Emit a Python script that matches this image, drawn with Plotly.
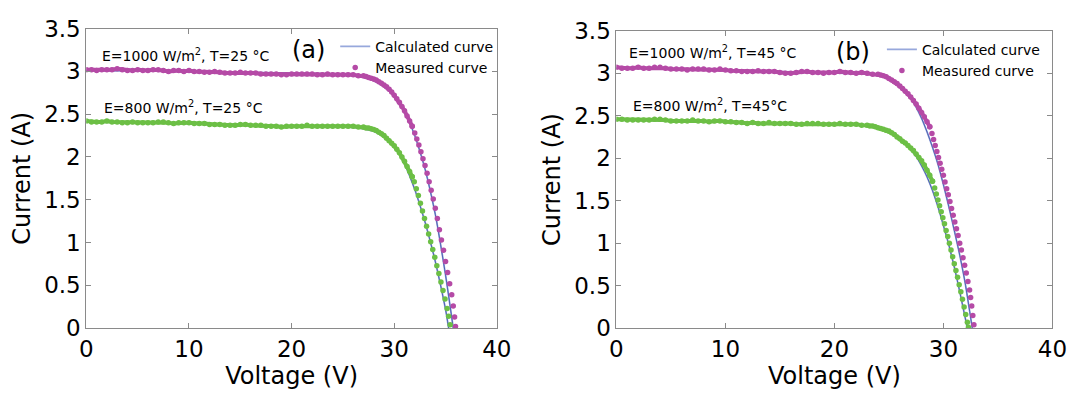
import plotly.graph_objects as go

# ---------------- data ----------------
# Panel (a): T = 25 °C
V_A_1000 = [0, 0.5, 1, 1.5, 2, 2.5, 3, 3.5, 4, 4.5, 5, 5.5, 6, 6.5, 7, 7.5, 8, 8.5, 9, 9.5,
            10, 10.5, 11, 11.5, 12, 12.5, 13, 13.5, 14, 14.5, 15, 15.5, 16, 16.5, 17, 17.5,
            18, 18.5, 19, 19.5, 20, 20.5, 21, 21.5, 22, 22.5, 23, 23.5, 24, 24.5, 25, 25.5,
            26, 26.5, 27,
            27.25, 27.5, 27.75, 28, 28.25, 28.5, 28.75, 29, 29.25, 29.5, 29.75, 30, 30.25,
            30.5, 30.75, 31, 31.25, 31.5, 31.75,
            32.0, 32.2, 32.4, 32.6, 32.8, 33.0, 33.2, 33.4, 33.6, 33.8, 34.0, 34.2, 34.4,
            34.6, 34.8, 35.0, 35.2, 35.4, 35.6, 35.75, 35.88, 35.97]
I_A_1000 = [3.02, 3.02, 3.01, 3.02, 3.02, 3.02, 3.03, 3.02, 3.01, 3.01, 3.02, 3.01, 3.01, 3.02,
            3.02, 3.01, 3.00, 3.01, 3.01, 3.00, 3.01, 3.00, 3.00, 2.99, 2.99, 3.00, 2.99, 2.98,
            2.98, 2.98, 2.99, 2.98, 2.98, 2.98, 2.97, 2.97, 2.97, 2.97, 2.96, 2.96, 2.97, 2.97,
            2.97, 2.97, 2.97, 2.96, 2.96, 2.97, 2.96, 2.96, 2.96, 2.96, 2.96, 2.95, 2.95,
            2.94, 2.93, 2.92, 2.91, 2.90, 2.88, 2.86, 2.84, 2.82, 2.79, 2.76, 2.72, 2.68,
            2.64, 2.59, 2.54, 2.48, 2.42, 2.36,
            2.28, 2.21, 2.14, 2.06, 1.98, 1.90, 1.81, 1.71, 1.61, 1.51, 1.40, 1.28, 1.15,
            1.03, 0.91, 0.78, 0.65, 0.52, 0.39, 0.26, 0.13, 0.02]
N_DENSE_A_1000 = 74  # points recorded densely (continuous band) before the steep part

V_A_800 = [0, 0.5, 1, 1.5, 2, 2.5, 3, 3.5, 4, 4.5, 5, 5.5, 6, 6.5, 7, 7.5, 8, 8.5, 9, 9.5,
           10, 10.5, 11, 11.5, 12, 12.5, 13, 13.5, 14, 14.5, 15, 15.5, 16, 16.5, 17, 17.5,
           18, 18.5, 19, 19.5, 20, 20.5, 21, 21.5, 22, 22.5, 23, 23.5, 24, 24.5, 25, 25.5,
           26, 26.5, 27,
           27.25, 27.5, 27.75, 28, 28.25, 28.5, 28.75, 29, 29.25, 29.5, 29.75, 30, 30.25,
           30.5, 30.75, 31, 31.25, 31.5, 31.75,
           31.95, 32.15, 32.35, 32.55, 32.75, 32.95, 33.15, 33.35, 33.55, 33.75, 33.95,
           34.15, 34.35, 34.55, 34.75, 34.95, 35.15, 35.3, 35.45]
I_A_800 = [2.42, 2.41, 2.41, 2.41, 2.42, 2.41, 2.41, 2.40, 2.40, 2.41, 2.40, 2.40, 2.40, 2.40,
           2.41, 2.41, 2.40, 2.39, 2.40, 2.40, 2.40, 2.39, 2.39, 2.39, 2.38, 2.38, 2.38, 2.37,
           2.37, 2.37, 2.38, 2.38, 2.37, 2.37, 2.37, 2.36, 2.36, 2.36, 2.35, 2.36, 2.36, 2.36,
           2.36, 2.37, 2.36, 2.36, 2.36, 2.36, 2.36, 2.36, 2.36, 2.36, 2.36, 2.35, 2.35,
           2.34, 2.34, 2.33, 2.32, 2.31, 2.29, 2.27, 2.25, 2.22, 2.19, 2.16, 2.13, 2.09,
           2.05, 2.00, 1.95, 1.89, 1.83, 1.77,
           1.71, 1.63, 1.55, 1.46, 1.37, 1.28, 1.19, 1.10, 1.01, 0.92, 0.83,
           0.73, 0.64, 0.54, 0.44, 0.34, 0.23, 0.14, 0.04]
N_DENSE_A_800 = 74

VC_A_1000 = [0, 5, 10, 15, 20, 24, 26, 27, 28, 29, 30, 31, 32, 33, 34, 35, 35.75]
IC_A_1000 = [3.01, 3.005, 3.0, 2.99, 2.98, 2.97, 2.95, 2.93, 2.89, 2.82, 2.71, 2.53, 2.25,
             1.86, 1.33, 0.62, 0.0]
VC_A_800 = [0, 5, 10, 15, 20, 24, 26, 27, 28, 29, 30, 31, 32, 33, 34, 35, 35.3]
IC_A_800 = [2.41, 2.40, 2.39, 2.38, 2.36, 2.355, 2.345, 2.33, 2.30, 2.24, 2.13, 1.92, 1.62,
            1.24, 0.78, 0.22, 0.0]

# Panel (b): T = 45 °C
V_B_1000 = [0, 0.5, 1, 1.5, 2, 2.5, 3, 3.5, 4, 4.5, 5, 5.5, 6, 6.5, 7, 7.5, 8, 8.5, 9, 9.5,
            10, 10.5, 11, 11.5, 12, 12.5, 13, 13.5, 14, 14.5, 15, 15.5, 16, 16.5, 17, 17.5,
            18, 18.5, 19, 19.5, 20, 20.5, 21, 21.5, 22, 22.5, 23, 23.5, 24,
            24.25, 24.5, 24.75, 25, 25.25, 25.5, 25.75, 26, 26.25, 26.5, 26.75, 27, 27.25,
            27.5, 27.75, 28, 28.25, 28.5, 28.75,
            28.95, 29.1, 29.25, 29.4, 29.55, 29.7, 29.85, 30.0, 30.15, 30.3, 30.45, 30.6,
            30.75, 30.9, 31.05, 31.2, 31.35, 31.5, 31.65, 31.8, 31.95, 32.1, 32.25, 32.4,
            32.5, 32.6, 32.7, 32.8]
I_B_1000 = [3.07, 3.06, 3.06, 3.06, 3.07, 3.06, 3.06, 3.07, 3.07, 3.06, 3.05, 3.05, 3.05, 3.04,
            3.05, 3.05, 3.05, 3.04, 3.04, 3.05, 3.04, 3.03, 3.03, 3.02, 3.02, 3.02, 3.03, 3.02,
            3.02, 3.02, 3.01, 3.00, 3.00, 3.01, 3.02, 3.02, 3.01, 3.01, 3.00, 3.01, 3.01, 3.02,
            3.01, 3.01, 3.00, 3.01, 3.00, 2.99, 2.99,
            2.98, 2.97, 2.96, 2.94, 2.92, 2.90, 2.88, 2.85, 2.82, 2.79, 2.76, 2.72, 2.68,
            2.64, 2.59, 2.54, 2.49, 2.43, 2.37,
            2.29, 2.22, 2.15, 2.08, 2.01, 1.94, 1.87, 1.80, 1.72, 1.64, 1.57, 1.49,
            1.41, 1.33, 1.25, 1.17, 1.09, 1.00, 0.92, 0.83, 0.74, 0.65, 0.55, 0.45,
            0.36, 0.26, 0.15, 0.04]
N_DENSE_B_1000 = 68

V_B_800 = [0, 0.5, 1, 1.5, 2, 2.5, 3, 3.5, 4, 4.5, 5, 5.5, 6, 6.5, 7, 7.5, 8, 8.5, 9, 9.5,
           10, 10.5, 11, 11.5, 12, 12.5, 13, 13.5, 14, 14.5, 15, 15.5, 16, 16.5, 17, 17.5,
           18, 18.5, 19, 19.5, 20, 20.5, 21, 21.5, 22, 22.5, 23,
           23.25, 23.5, 23.75, 24, 24.25, 24.5, 24.75, 25, 25.25, 25.5, 25.75, 26, 26.25,
           26.5, 26.75, 27, 27.25, 27.5, 27.75, 28, 28.25, 28.5, 28.75, 29,
           29.2, 29.35, 29.5, 29.65, 29.8, 29.95, 30.1, 30.25, 30.4, 30.55, 30.7, 30.85,
           31.0, 31.15, 31.3, 31.45, 31.6, 31.75, 31.9, 32.05, 32.2, 32.3]
I_B_800 = [2.46, 2.46, 2.45, 2.45, 2.45, 2.45, 2.45, 2.46, 2.46, 2.45, 2.44, 2.44, 2.44, 2.44,
           2.45, 2.44, 2.44, 2.43, 2.44, 2.44, 2.43, 2.43, 2.42, 2.42, 2.41, 2.42, 2.41, 2.41,
           2.42, 2.41, 2.41, 2.41, 2.41, 2.40, 2.40, 2.41, 2.41, 2.41, 2.40, 2.40, 2.40, 2.41,
           2.40, 2.40, 2.40, 2.39, 2.39,
           2.38, 2.38, 2.37, 2.36, 2.35, 2.34, 2.33, 2.32, 2.30, 2.28, 2.25, 2.23, 2.20,
           2.18, 2.15, 2.12, 2.09, 2.05, 2.01, 1.97, 1.92, 1.86, 1.80, 1.73,
           1.65, 1.58, 1.51, 1.44, 1.37, 1.30, 1.23, 1.15, 1.08, 1.00, 0.92, 0.84,
           0.76, 0.68, 0.60, 0.51, 0.43, 0.34, 0.25, 0.16, 0.07, 0.01]
N_DENSE_B_800 = 71

VC_B_1000 = [0, 5, 10, 15, 20, 23, 24.5, 25.5, 26.5, 27, 27.5, 28, 28.5, 29, 29.5, 30, 30.5,
             31, 31.5, 32.0, 32.65]
IC_B_1000 = [3.06, 3.05, 3.035, 3.02, 3.005, 2.99, 2.96, 2.90, 2.79, 2.71, 2.60, 2.47, 2.31,
             2.13, 1.93, 1.69, 1.43, 1.15, 0.86, 0.53, 0.0]
VC_B_800 = [0, 5, 10, 15, 20, 22, 23.5, 24.5, 25.5, 26.5, 27, 27.5, 28, 28.5, 29, 29.5, 30,
            30.5, 31, 31.5, 32.2]
IC_B_800 = [2.45, 2.44, 2.43, 2.41, 2.405, 2.40, 2.38, 2.34, 2.27, 2.17, 2.10, 2.02, 1.91,
            1.78, 1.62, 1.43, 1.21, 0.98, 0.72, 0.43, 0.0]

LABELS_A = ["E=1000 W/m<sup>2</sup>, T=25 °C", "E=800 W/m<sup>2</sup>, T=25 °C", "(a)"]
LABELS_B = ["E=1000 W/m<sup>2</sup>, T=45 °C", "E=800 W/m<sup>2</sup>, T=45°C", "(b)"]

# ---------------- styling ----------------
MAGENTA = "#b54aa6"
GREEN = "#6cbf45"
CALC_LIGHT = "#97a8dc"
CALC_DARK = "#2f42a2"
FONT = "DejaVu Sans, Arial, sans-serif"

fig = go.Figure()


def add_panel(xa, ya, legend, meas, calc):
    # calculated curves (light line with thin darker core)
    for k, (vc, ic) in enumerate(calc):
        fig.add_trace(go.Scatter(x=vc, y=ic, mode="lines", xaxis=xa, yaxis=ya,
                                 line=dict(color=CALC_LIGHT, width=1.8, shape="spline",
                                           smoothing=0.6),
                                 name="Calculated curve", legend=legend,
                                 showlegend=(k == 0)))
        fig.add_trace(go.Scatter(x=vc, y=ic, mode="lines", xaxis=xa, yaxis=ya,
                                 line=dict(color=CALC_DARK, width=0.7, shape="spline",
                                           smoothing=0.6),
                                 showlegend=False, hoverinfo="skip"))
    for k, (v, i, n, col) in enumerate(meas):
        # densely sampled part of the record: a continuous noisy band of markers
        fig.add_trace(go.Scatter(x=v[:n], y=i[:n], mode="lines+markers", xaxis=xa, yaxis=ya,
                                 line=dict(color=col, width=4),
                                 marker=dict(color=col, size=5.5, line=dict(width=0)),
                                 showlegend=False))
        # sparse part on the steep slope
        fig.add_trace(go.Scatter(x=v[n - 1:], y=i[n - 1:], mode="markers", xaxis=xa, yaxis=ya,
                                 marker=dict(color=col, size=5.5, line=dict(width=0)),
                                 name="Measured curve", legend=legend,
                                 showlegend=(k == 0)))


add_panel("x", "y", "legend",
          [(V_A_1000, I_A_1000, N_DENSE_A_1000, MAGENTA), (V_A_800, I_A_800, N_DENSE_A_800, GREEN)],
          [(VC_A_1000, IC_A_1000), (VC_A_800, IC_A_800)])
add_panel("x2", "y2", "legend2",
          [(V_B_1000, I_B_1000, N_DENSE_B_1000, MAGENTA), (V_B_800, I_B_800, N_DENSE_B_800, GREEN)],
          [(VC_B_1000, IC_B_1000), (VC_B_800, IC_B_800)])

axis_common = dict(showline=True, linecolor="#8a8a8a", linewidth=1, mirror="ticks",
                   ticks="inside", ticklen=5, tickcolor="#8a8a8a", showgrid=False,
                   zeroline=False, tickfont=dict(family=FONT, size=23, color="black"))

xcommon = dict(axis_common, range=[0, 40], dtick=10,
               title=dict(text="Voltage (V)", font=dict(family=FONT, size=24, color="black"),
                          standoff=0))
ycommon = dict(axis_common, range=[0, 3.5], dtick=0.5,
               title=dict(text="Current (A)", font=dict(family=FONT, size=24, color="black"),
                          standoff=6))

annots = []
for xr, yr, labels, pos in [("x", "y", LABELS_A, [(1.3, 3.19), (1.5, 2.58), (21.6, 3.25)]),
                            ("x2", "y2", LABELS_B, [(1.0, 3.25), (1.3, 2.63), (21.7, 3.25)])]:
    for k, (lab, (px, py)) in enumerate(zip(labels, pos)):
        big = (k == 2)
        annots.append(dict(text=lab, x=px, y=py, xref=xr, yref=yr,
                           xanchor="center" if big else "left", yanchor="middle",
                           showarrow=False,
                           font=dict(family=FONT, size=24 if big else 14, color="black")))

legend_common = dict(xanchor="left", yanchor="top", bgcolor="rgba(0,0,0,0)",
                     font=dict(family=FONT, size=14, color="black"),
                     tracegroupgap=0, itemwidth=30)

fig.update_layout(
    width=1086, height=397,
    margin=dict(l=0, r=0, t=0, b=0),
    paper_bgcolor="white", plot_bgcolor="white",
    font=dict(family=FONT, color="black"),
    xaxis=dict(xcommon, domain=[81 / 1086, 500 / 1086], anchor="y"),
    yaxis=dict(ycommon, domain=[0.1504, 0.958], anchor="x"),
    xaxis2=dict(xcommon, domain=[622 / 1086, 1067 / 1086], anchor="y2"),
    yaxis2=dict(ycommon, domain=[0.1504, 0.952], anchor="x2"),
    legend=dict(legend_common, x=335 / 1086, y=0.952),
    legend2=dict(legend_common, x=893 / 1086, y=0.944),
    annotations=annots,
    showlegend=True,
)

fig.write_html("out.html")
